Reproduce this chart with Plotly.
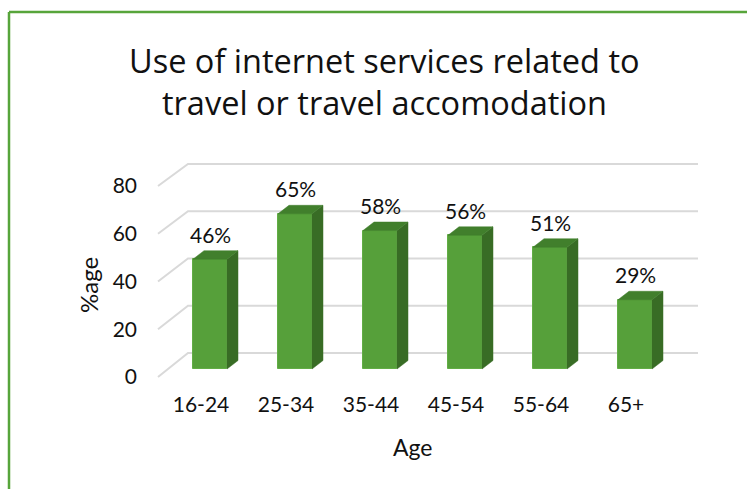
import plotly.graph_objects as go

# ---- data ----
categories = ["16-24", "25-34", "35-44", "45-54", "55-64", "65+"]
values = [46, 65, 58, 56, 51, 29]
y_ticks = [0, 20, 40, 60, 80]
title_lines = ["Use of internet services related to", "travel or travel accomodation"]
x_title = "Age"
y_title = "%age"

# ---- geometry (pixels) ----
W, H = 747, 489
X0_PX, X_STEP_PX = 201, 85          # front plane category positions
Y0_PX, Y_PX = 377, 2.3875           # front plane value scale
L, R_PX, T, B_PX = 154, 703, 150, 390

xr = [(L - X0_PX) / X_STEP_PX, (R_PX - X0_PX) / X_STEP_PX]
yr = [(Y0_PX - B_PX) / Y_PX, (Y0_PX - T) / Y_PX]

BAR_DX = 9 / X_STEP_PX
BAR_DY = 8 / Y_PX
HALF_W = 17 / X_STEP_PX
DEPTH_X = 11 / X_STEP_PX
DEPTH_Y = 8.5 / Y_PX
WALL_X0 = (158 - X0_PX) / X_STEP_PX
WALL_DX = 30 / X_STEP_PX
WALL_DY = 24 / Y_PX
WALL_SCALE = 2.3625 / 2.3875
WALL_X1 = (698 - X0_PX) / X_STEP_PX

FRONT = "#56a03a"
SIDE = "#386c25"
TOP = "#417f2c"
GRID = "#d9d9d9"
FONT = "Lato"
TXT = "#111111"

fig = go.Figure()

# back wall gridlines (base axes, drawn underneath)
gx, gy = [], []
for v in y_ticks:
    yb = WALL_DY + v * WALL_SCALE
    gx += [WALL_X0, WALL_X0 + WALL_DX, WALL_X1, None]
    gy += [v, yb, yb, None]
fig.add_trace(go.Scatter(x=gx, y=gy, mode="lines", line=dict(color=GRID, width=2),
                         hoverinfo="skip", showlegend=False, xaxis="x", yaxis="y"))

xc = [i + BAR_DX for i in range(len(categories))]

# front faces (overlay axes, on top of gridlines)
fig.add_trace(go.Bar(x=xc, y=values, base=BAR_DY, width=2 * HALF_W,
                     marker=dict(color=FRONT, line=dict(color="#62ad45", width=1)),
                     showlegend=False, xaxis="x2", yaxis="y2"))

# side and top faces
sx, sy, tx, ty = [], [], [], []
for c, v in zip(xc, values):
    xl, xrt = c - HALF_W, c + HALF_W
    b, t = BAR_DY, BAR_DY + v
    sx += [xrt, xrt + DEPTH_X, xrt + DEPTH_X, xrt, xrt, None]
    sy += [b, b + DEPTH_Y, t + DEPTH_Y, t, b, None]
    tx += [xl, xl + DEPTH_X, xrt + DEPTH_X, xrt, xl, None]
    ty += [t, t + DEPTH_Y, t + DEPTH_Y, t, t, None]
fig.add_trace(go.Scatter(x=sx, y=sy, mode="lines", fill="toself", fillcolor=SIDE,
                         line=dict(color=SIDE, width=0.5), hoverinfo="skip",
                         showlegend=False, xaxis="x2", yaxis="y2"))
fig.add_trace(go.Scatter(x=tx, y=ty, mode="lines", fill="toself", fillcolor=TOP,
                         line=dict(color=TOP, width=0.5), hoverinfo="skip",
                         showlegend=False, xaxis="x2", yaxis="y2"))

# data labels
for c, v in zip(xc, values):
    fig.add_annotation(x=c, y=BAR_DY + v, xref="x2", yref="y2", text=f"{v}%",
                       showarrow=False, yshift=25,
                       font=dict(family=FONT, size=21, color=TXT))

pw, ph = R_PX - L, B_PX - T
def px_x(p): return (p - L) / pw
def px_y(p): return (B_PX - p) / ph

# title (two lines)
for line, ypx in zip(title_lines, [60, 102]):
    fig.add_annotation(x=px_x(384), y=px_y(ypx), xref="paper", yref="paper", text=line,
                       xanchor="center", yanchor="middle", showarrow=False,
                       font=dict(family="Open Sans", size=32.5, color=TXT))

fig.add_annotation(x=px_x(413), y=px_y(447), xref="paper", yref="paper", text=x_title,
                   xanchor="center", yanchor="middle", showarrow=False,
                   font=dict(family=FONT, size=23, color=TXT))
fig.add_annotation(x=px_x(88), y=px_y(285), xref="paper", yref="paper", text=y_title,
                   xanchor="center", yanchor="middle", textangle=-90, showarrow=False,
                   font=dict(family=FONT, size=24, color=TXT))

# green frame
fig.add_shape(type="line", xref="paper", yref="paper", x0=px_x(9), x1=px_x(9),
              y0=px_y(12), y1=px_y(H + 5), line=dict(color="#57a53b", width=2.5))
fig.add_shape(type="line", xref="paper", yref="paper", x0=px_x(9), x1=px_x(W + 5),
              y0=px_y(12), y1=px_y(12), line=dict(color="#57a53b", width=2.5))

hidden = dict(showgrid=False, zeroline=False, showline=False, ticks="", showticklabels=False)

fig.update_layout(
    width=W, height=H,
    margin=dict(l=L, r=W - R_PX, t=T, b=H - B_PX),
    paper_bgcolor="white", plot_bgcolor="white",
    xaxis=dict(range=xr, tickvals=list(range(len(categories))), ticktext=categories,
               showgrid=False, zeroline=False, showline=False, ticks="",
               ticklabelstandoff=0,
               tickfont=dict(family=FONT, size=21, color=TXT)),
    yaxis=dict(range=yr, tickvals=y_ticks, showgrid=False, zeroline=False,
               showline=False, ticks="", ticklabelstandoff=16,
               tickfont=dict(family=FONT, size=21, color=TXT)),
    xaxis2=dict(range=xr, overlaying="x", anchor="y2", **hidden),
    yaxis2=dict(range=yr, overlaying="y", anchor="x2", **hidden),
    bargap=0,
)

fig.write_html("out.html")
